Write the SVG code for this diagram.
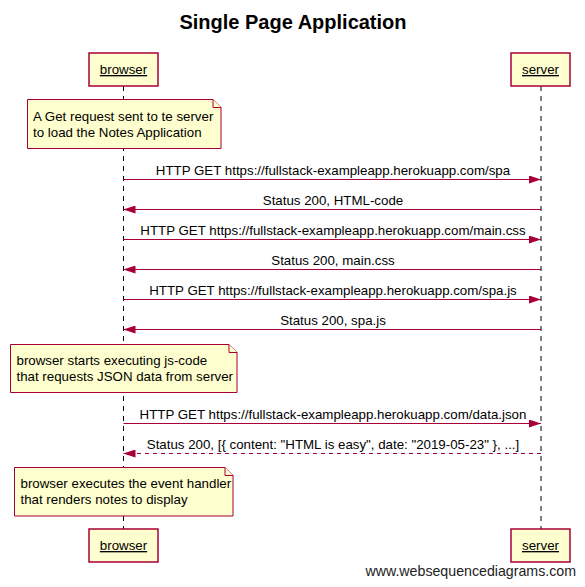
<svg xmlns="http://www.w3.org/2000/svg" width="585" height="587" viewBox="0 0 585 587">
<defs>
<style>
text{font-family:"Liberation Sans",Arial,sans-serif;fill:#000}
.title{font-size:20px;font-weight:bold;text-anchor:middle}
.part{fill:#FEFECE;stroke:#A80036;stroke-width:1.5}
.plabel{font-size:13.3px;text-anchor:middle;text-decoration:underline}
.life{stroke:#000;stroke-width:1;stroke-dasharray:5,5;fill:none}
.note{fill:#FEFECE;stroke:#A80036;stroke-width:1}
.ntext{font-size:13.3px}
.msg{stroke:#A80036;stroke-width:1;fill:none}
.dash{stroke-dasharray:4,4}
.mtext{font-size:13.3px;text-anchor:middle}
.wm{font-size:14.2px;text-anchor:end;fill:#222}
</style>
<marker id="ah" markerUnits="userSpaceOnUse" markerWidth="12" markerHeight="8" refX="12" refY="4" orient="auto">
<path d="M0,0 L12,4 L0,8 Z" fill="#A80036"/>
</marker>
</defs>
<rect width="585" height="587" fill="#fff"/>
<text class="title" x="293" y="29">Single Page Application</text>

<g id="lifelines">
<line class="life" x1="123.5" y1="86" x2="123.5" y2="529"/>
<line class="life" x1="541" y1="86" x2="541" y2="529"/>
</g>

<g id="browser-top"><rect class="part" x="89" y="53" width="69" height="33"/><text class="plabel" x="123.5" y="74">browser</text></g>
<g id="server-top"><rect class="part" x="511" y="53" width="59" height="33"/><text class="plabel" x="540.5" y="74">server</text></g>
<g id="browser-bottom"><rect class="part" x="89" y="529" width="69" height="33"/><text class="plabel" x="123.5" y="550">browser</text></g>
<g id="server-bottom"><rect class="part" x="511" y="529" width="59" height="33"/><text class="plabel" x="540.5" y="550">server</text></g>

<g id="note1">
<path class="note" d="M27.5,99.5 L213,99.5 L221,107.5 L221,148.5 L27.5,148.5 Z"/>
<path class="note" d="M213,99.5 L213,107.5 L221,107.5"/>
<text class="ntext" x="33" y="121">A Get request sent to te server</text>
<text class="ntext" x="33" y="137">to load the Notes Application</text>
</g>
<g id="note2">
<path class="note" d="M10.5,344.5 L229,344.5 L237,352.5 L237,392.5 L10.5,392.5 Z"/>
<path class="note" d="M229,344.5 L229,352.5 L237,352.5"/>
<text class="ntext" x="16.5" y="365">browser starts executing js-code</text>
<text class="ntext" x="16.5" y="381">that requests JSON data from server</text>
</g>
<g id="note3">
<path class="note" d="M14.5,467.5 L225,467.5 L233,475.5 L233,516 L14.5,516 Z"/>
<path class="note" d="M225,467.5 L225,475.5 L233,475.5"/>
<text class="ntext" x="20.5" y="488">browser executes the event handler</text>
<text class="ntext" x="20.5" y="504">that renders notes to display</text>
</g>

<g id="connectors">
<line class="msg" x1="123.5" y1="179.5" x2="541" y2="179.5" marker-end="url(#ah)"/>
<text class="mtext" x="333" y="175">HTTP GET https://fullstack-exampleapp.herokuapp.com/spa</text>
<line class="msg" x1="541" y1="209.5" x2="123.5" y2="209.5" marker-end="url(#ah)"/>
<text class="mtext" x="333" y="205">Status 200, HTML-code</text>
<line class="msg" x1="123.5" y1="239.5" x2="541" y2="239.5" marker-end="url(#ah)"/>
<text class="mtext" x="333" y="235">HTTP GET https://fullstack-exampleapp.herokuapp.com/main.css</text>
<line class="msg" x1="541" y1="269.5" x2="123.5" y2="269.5" marker-end="url(#ah)"/>
<text class="mtext" x="333" y="265">Status 200, main.css</text>
<line class="msg" x1="123.5" y1="299.5" x2="541" y2="299.5" marker-end="url(#ah)"/>
<text class="mtext" x="333" y="295">HTTP GET https://fullstack-exampleapp.herokuapp.com/spa.js</text>
<line class="msg" x1="541" y1="329.5" x2="123.5" y2="329.5" marker-end="url(#ah)"/>
<text class="mtext" x="333" y="325">Status 200, spa.js</text>
<line class="msg" x1="123.5" y1="423.5" x2="541" y2="423.5" marker-end="url(#ah)"/>
<text class="mtext" x="333" y="419">HTTP GET https://fullstack-exampleapp.herokuapp.com/data.json</text>
<line class="msg dash" x1="541" y1="453.5" x2="123.5" y2="453.5" marker-end="url(#ah)"/>
<text class="mtext" x="333" y="449">Status 200, [{ content: "HTML is easy", date: "2019-05-23" }, ...]</text>
</g>

<text class="wm" x="576" y="576">www.websequencediagrams.com</text>
</svg>
